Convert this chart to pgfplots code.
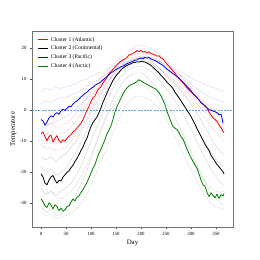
\documentclass[border=0pt]{standalone}
\usepackage{fontspec}
\setmainfont{Liberation Serif}
\usepackage{pgfplots}
\pgfplotsset{compat=1.18}
\definecolor{mgreen}{rgb}{0,0.5,0}
\definecolor{zline}{rgb}{0.35,0.65,0.9}
\begin{document}
\begin{tikzpicture}
\path[use as bounding box] (-32pt,-33pt) rectangle (228pt,227pt);
\begin{axis}[
  scale only axis, width=201pt, height=196pt,
  at={(0,0)}, anchor=south west,
  xmin=-18, xmax=384, ymin=-37.6, ymax=25.5,
  xtick={0,50,...,350}, ytick={-30,-20,-10,0,10,20},
  tick align=outside, xtick pos=bottom, ytick pos=left,
  major tick length=2pt,
  tick style={black!70, line width=0.4pt},
  axis line style={black!55, line width=0.6pt},
  ticklabel style={font=\fontsize{4.8}{5}\selectfont},
  /pgf/number format/assume math mode=true,
  xlabel={Day}, ylabel={Temperature},
  label style={font=\fontsize{6.8}{7}\selectfont},
  xlabel style={yshift=3pt},
  ylabel style={yshift=-3pt},
  legend style={at={(0.02,0.985)}, anchor=north west, draw=none, fill=white, fill opacity=0.8, text opacity=1,
    font=\fontsize{5.6}{6}\selectfont, row sep=-0.6pt, inner sep=1pt},
  legend cell align=left,
  legend image code/.code={\draw[#1, line width=0.9pt] (0cm,0cm) -- (0.38cm,0cm);},
  every axis plot/.append style={line join=round},
]
% faint gray (continental) stations
\addplot[black!60, opacity=0.35, line width=0.3pt, forget plot] coordinates {(0,-15) (10,-16) (20,-15) (30,-16.5) (40,-15) (50,-14) (60,-12) (70,-10) (80,-7) (90,-4) (100,-1) (110,2) (120,5) (130,8) (140,10.5) (150,12.5) (160,14) (170,15.5) (180,16.5) (190,17) (200,17.5) (210,17) (220,16) (230,14.5) (240,13) (250,11) (260,9.5) (270,8) (280,6) (290,4) (300,2) (310,-0.5) (320,-3) (330,-6) (340,-9) (350,-11.5) (360,-13.5) (366,-14.5)};
\addplot[black!60, opacity=0.35, line width=0.3pt, forget plot] coordinates {(0,-25) (10,-27) (20,-26) (30,-27.5) (40,-26) (50,-25) (60,-23.5) (70,-21) (80,-18) (90,-14) (100,-10) (110,-6) (120,-2) (130,2) (140,6) (150,9) (160,11) (170,12.5) (180,13.5) (190,14) (200,14.2) (210,13.5) (220,12.5) (230,11) (240,9) (250,7) (260,5) (270,2.5) (280,0) (290,-3) (300,-6) (310,-9.5) (320,-13) (330,-16) (340,-19) (350,-21.5) (360,-23.5) (366,-24.5)};
\addplot[black!60, opacity=0.35, line width=0.3pt, forget plot] coordinates {(0,-31) (10,-33) (20,-32) (30,-34) (40,-33.5) (50,-32) (60,-30) (70,-27) (80,-24) (90,-20) (100,-16) (110,-11) (120,-6) (130,-2) (140,2) (150,5.5) (160,8) (170,10) (180,11.5) (190,12) (200,12) (210,11) (220,9.5) (230,7.5) (240,5) (250,2.5) (260,0) (270,-3) (280,-6.5) (290,-10) (300,-13.5) (310,-17) (320,-20.5) (330,-24) (340,-26.5) (350,-28.5) (360,-30) (366,-30.5)};
\addplot[black!60, opacity=0.35, line width=0.3pt, forget plot] coordinates {(0,-18) (10,-20) (20,-19) (30,-21) (40,-20) (50,-18.5) (60,-16) (70,-13.5) (80,-10.5) (90,-7) (100,-3.5) (110,0) (120,3) (130,6) (140,9) (150,11) (160,13) (170,14.5) (180,15.5) (190,16) (200,16.5) (210,16) (220,15) (230,13.5) (240,11.5) (250,9.5) (260,7.5) (270,5) (280,3) (290,0.5) (300,-2) (310,-5) (320,-8) (330,-11) (340,-13.5) (350,-16) (360,-17.5) (366,-18)};
% faint red (atlantic)
\addplot[red!60, opacity=0.35, line width=0.3pt, forget plot] coordinates {(0,-4) (10,-5) (20,-4) (30,-5.5) (40,-5) (50,-4) (60,-3) (70,-1) (80,1) (90,3.5) (100,6) (110,8.5) (120,10.5) (130,12.5) (140,14) (150,15.5) (160,17) (170,18) (180,19.5) (190,20.5) (200,21) (210,20.5) (220,20) (230,19) (240,17.5) (250,16) (260,14.5) (270,12.5) (280,11) (290,9) (300,7.5) (310,5.5) (320,4) (330,2.5) (340,0.5) (350,-1) (360,-2.5) (366,-3.5)};
\addplot[red!60, opacity=0.35, line width=0.3pt, forget plot] coordinates {(0,-11) (10,-12.5) (20,-12) (30,-13) (40,-12.5) (50,-12) (60,-10) (70,-8) (80,-6) (90,-3) (100,0) (110,3.5) (120,6) (130,8.5) (140,10.5) (150,12.5) (160,14) (170,15) (180,16) (190,16.5) (200,17) (210,16.5) (220,16) (230,14.5) (240,13) (250,11.5) (260,10) (270,8) (280,6.5) (290,4.5) (300,3) (310,1) (320,-1) (330,-3) (340,-5) (350,-7) (360,-9) (366,-10)};
\addplot[red!60, opacity=0.35, line width=0.3pt, forget plot] coordinates {(0,-7) (10,-8) (20,-6.5) (30,-7.5) (40,-7.5) (50,-7) (60,-5.5) (70,-3.5) (80,-1) (90,1.5) (100,4) (110,6.5) (120,8.5) (130,10.5) (140,12.5) (150,14) (160,15.5) (170,16.5) (180,17.5) (190,18) (200,18.5) (210,18.5) (220,17.5) (230,16.5) (240,15) (250,13.5) (260,12) (270,10.5) (280,8.5) (290,7) (300,5) (310,3.5) (320,1.5) (330,0) (340,-1.5) (350,-3.5) (360,-5) (366,-6)};
% faint blue (pacific)
\addplot[blue!60, opacity=0.35, line width=0.3pt, forget plot] coordinates {(0,6) (10,7) (20,6.5) (30,7.5) (40,7) (50,7.5) (60,8) (70,8.5) (80,9.5) (90,10) (100,11) (110,11.5) (120,12.5) (130,13) (140,14) (150,14.5) (160,15) (170,15.5) (180,16) (190,16.5) (200,17) (210,17) (220,16.5) (230,16) (240,15.5) (250,14.5) (260,14) (270,13) (280,12.5) (290,11.5) (300,10.5) (310,9.5) (320,9) (330,8) (340,7.5) (350,7) (360,6.5) (366,6)};
\addplot[blue!60, opacity=0.35, line width=0.3pt, forget plot] coordinates {(0,2) (10,3) (20,2.5) (30,3.5) (40,4) (50,4) (60,5) (70,5.5) (80,6.5) (90,7.5) (100,8.5) (110,9.5) (120,10.5) (130,11.5) (140,12.5) (150,13.5) (160,14.5) (170,15) (180,16) (190,16.5) (200,17) (210,17.5) (220,17) (230,16.5) (240,15.5) (250,14.5) (260,13.5) (270,12) (280,11) (290,10) (300,8.5) (310,7) (320,6) (330,5) (340,4) (350,3.5) (360,3) (366,2.5)};
\addplot[blue!60, opacity=0.35, line width=0.3pt, forget plot] coordinates {(0,-6) (10,-5) (20,-4.5) (30,-3.5) (40,-3) (50,-2) (60,-1) (70,0.5) (80,2) (90,3.5) (100,5) (110,6.5) (120,8) (130,9.5) (140,10.5) (150,11.5) (160,12.5) (170,13.5) (180,14.5) (190,15) (200,15.5) (210,15.5) (220,15) (230,14) (240,13) (250,11.5) (260,10.5) (270,9) (280,7.5) (290,5.5) (300,4) (310,2.5) (320,0.5) (330,-1) (340,-2) (350,-3) (360,-4) (366,-5)};
% faint green (arctic)
\addplot[mgreen!60, opacity=0.35, line width=0.3pt, forget plot] coordinates {(0,-33) (10,-34) (20,-33.5) (30,-35) (40,-34.5) (50,-34) (60,-33) (70,-32) (80,-30) (90,-27.5) (100,-24) (110,-20.5) (120,-16.5) (130,-12.5) (140,-8.5) (150,-5) (160,-1.5) (170,1.5) (180,3.5) (190,4.5) (200,4.5) (210,4) (220,3) (230,1.5) (240,-0.5) (250,-3) (260,-6) (270,-9) (280,-12.5) (290,-16) (300,-19) (310,-22.5) (320,-25.5) (330,-28) (340,-30) (350,-31) (360,-31.5) (366,-32)};
\addplot[mgreen!60, opacity=0.35, line width=0.3pt, forget plot] coordinates {(0,-26) (10,-27) (20,-26.5) (30,-28) (40,-28.5) (50,-27.5) (60,-26) (70,-24) (80,-21.5) (90,-18) (100,-14.5) (110,-10.5) (120,-6.5) (130,-3) (140,0.5) (150,3) (160,5) (170,6.5) (180,7.5) (190,8) (200,8) (210,7.5) (220,6) (230,4.5) (240,2) (250,-0.5) (260,-3) (270,-6) (280,-9) (290,-12) (300,-15) (310,-18) (320,-21) (330,-23.5) (340,-25) (350,-26) (360,-26.5) (366,-26)};
% zero line
\addplot[zline, dashed, line width=0.5pt, dash pattern=on 2pt off 1.2pt, forget plot] coordinates {(-18,0) (384,0)};
% cluster means
\addplot[red, line width=0.8pt] coordinates {(0,-7.5) (4,-7) (8,-8.5) (12,-9.8) (16,-8.5) (20,-8) (24,-10.3) (28,-9) (32,-8.2) (36,-9.8) (40,-10.4) (44,-9.5) (48,-10) (52,-9) (56,-8.4) (60,-7.8) (64,-7) (68,-6.5) (72,-5.8) (76,-5) (80,-4.2) (84,-3) (88,-1.5) (92,0) (96,1.2) (100,2.8) (104,4) (108,4.6) (112,6) (116,7) (120,7.5) (124,8.8) (128,9.7) (132,10.5) (136,11.8) (140,12.5) (144,13.2) (148,14) (152,14.6) (156,15.3) (160,15.8) (164,16.2) (168,16.5) (172,17) (176,17.8) (180,18) (184,18.3) (188,18.6) (192,19.2) (196,18.8) (200,19.3) (204,18.7) (208,18.9) (212,18.4) (216,18.8) (220,18.2) (224,18) (228,17.8) (232,17.4) (236,17.5) (240,16.8) (244,16.5) (248,15.6) (252,14.8) (256,14.2) (260,13.4) (264,12.6) (268,11.9) (272,11) (276,10.2) (280,9.4) (284,8.8) (288,8) (292,7.2) (296,6.5) (300,5.9) (304,5.2) (308,4.6) (312,4) (316,3.3) (320,2.6) (324,2) (328,1.2) (332,0.6) (336,-0.6) (340,-1.6) (344,-2.4) (348,-3) (352,-3.6) (356,-4.8) (360,-5.6) (364,-6.8) (366,-7.2)};
\addlegendentry{Cluster 1 (Atlantic)}
\addplot[black, line width=0.8pt] coordinates {(0,-20.5) (4,-21.5) (8,-23.5) (12,-24) (16,-22.5) (20,-21.5) (24,-21) (28,-22.5) (32,-23.5) (36,-22.6) (40,-22.8) (44,-21.5) (48,-20.8) (52,-20) (56,-19.5) (60,-18.5) (64,-17.7) (68,-16.5) (72,-15.5) (76,-14.3) (80,-13) (84,-11.8) (88,-10.2) (92,-9) (96,-7) (100,-5.2) (104,-4) (108,-3) (112,-2.2) (116,-0.8) (120,0.8) (124,2.6) (128,4) (132,5.6) (136,7) (140,8.3) (144,9.6) (148,10.6) (152,11.5) (156,12.2) (160,13) (164,13.6) (168,14) (172,14.4) (176,14.7) (180,15) (184,15.3) (188,15.4) (192,15.6) (196,15.5) (200,15.8) (204,15.6) (208,15.5) (212,15.2) (216,14.8) (220,14.4) (224,13.8) (228,13.2) (232,12.6) (236,12) (240,11.2) (244,10.6) (248,9.8) (252,9) (256,8.4) (260,7.8) (264,7) (268,5.8) (272,4.9) (276,4) (280,3) (284,2) (288,1) (292,0) (296,-1) (300,-2) (304,-3.3) (308,-4.5) (312,-6) (316,-7.2) (320,-8.5) (324,-9.7) (328,-11) (332,-12) (336,-13) (340,-14.5) (344,-15.5) (348,-16.5) (352,-17.5) (356,-18.2) (360,-19) (364,-19.8) (366,-20.5)};
\addlegendentry{Cluster 2 (Continental)}
\addplot[blue, line width=0.8pt] coordinates {(0,-3) (4,-3.5) (8,-4.8) (12,-3.8) (16,-2.5) (20,-1.8) (24,-2.2) (28,-1.2) (32,-0.8) (36,-1.3) (40,-0.2) (44,0.3) (48,0) (52,0.6) (56,1.3) (60,1.1) (64,2) (68,2.6) (72,3) (76,3.6) (80,4.3) (84,4.8) (88,5.4) (92,5.8) (96,6.5) (100,7) (104,7.4) (108,8) (112,8.4) (116,8.7) (120,9.2) (124,9.8) (128,10.3) (132,10.8) (136,11.4) (140,12) (144,12.4) (148,12.9) (152,13.3) (156,13.6) (160,14) (164,14.2) (168,14.6) (172,15) (176,15.2) (180,15.5) (184,15.8) (188,16.1) (192,16.2) (196,16.6) (200,16.8) (204,16.6) (208,17) (212,16.8) (216,17) (220,16.5) (224,16.2) (228,16) (232,15.6) (236,15.2) (240,14.8) (244,14.4) (248,13.8) (252,13.2) (256,12.8) (260,12.3) (264,11.8) (268,11.3) (272,10.9) (276,10.3) (280,9.7) (284,9) (288,8.4) (292,7.6) (296,7) (300,6.3) (304,5.4) (308,4.8) (312,4) (316,3.3) (320,2.4) (324,1.9) (328,1.5) (332,0.8) (336,0.2) (340,0) (344,-0.3) (348,-0.5) (352,-0.8) (356,-1.5) (360,-1.2) (362,-2.5) (364,-4.2)};
\addlegendentry{Cluster 3 (Pacific)}
\addplot[mgreen, line width=0.8pt] coordinates {(0,-28.5) (4,-29.5) (8,-30.8) (12,-31.3) (16,-29.8) (20,-30.5) (24,-31.8) (28,-30.4) (32,-31) (36,-32.4) (40,-31.5) (44,-32.5) (48,-32) (52,-31) (56,-30.8) (60,-29.5) (64,-28.6) (68,-29.2) (72,-28) (76,-27.6) (80,-26.5) (84,-25.6) (88,-24.4) (92,-23.2) (96,-21.8) (100,-20.2) (104,-18.7) (108,-17.5) (112,-15.5) (116,-13.8) (120,-12.6) (124,-11) (128,-9.4) (132,-7.6) (136,-6.4) (140,-5) (144,-3) (148,-0.5) (152,1.2) (156,2.6) (160,3.8) (164,5.2) (168,6.4) (172,7.2) (176,7.8) (180,8.2) (184,8.5) (188,8.8) (192,9.2) (196,9.8) (200,9.5) (204,9) (208,8.7) (212,8.3) (216,8) (220,7.6) (224,7.2) (228,7) (232,6.4) (236,5.6) (240,4.6) (244,3.2) (248,1.8) (252,-0.5) (256,-2) (260,-3.8) (264,-5.3) (268,-5.8) (272,-6.2) (276,-7.2) (280,-8.5) (284,-9.3) (288,-10.8) (292,-12.5) (296,-14) (300,-15.3) (304,-16.5) (308,-17.6) (312,-18.7) (316,-20.5) (320,-22.5) (324,-24) (328,-24.5) (332,-26.5) (336,-27.8) (340,-26.6) (344,-27.4) (348,-28.2) (352,-27) (356,-28.4) (360,-27.2) (364,-27.6) (366,-26.8)};
\addlegendentry{Cluster 4 (Arctic)}
\end{axis}
\end{tikzpicture}
\end{document}
